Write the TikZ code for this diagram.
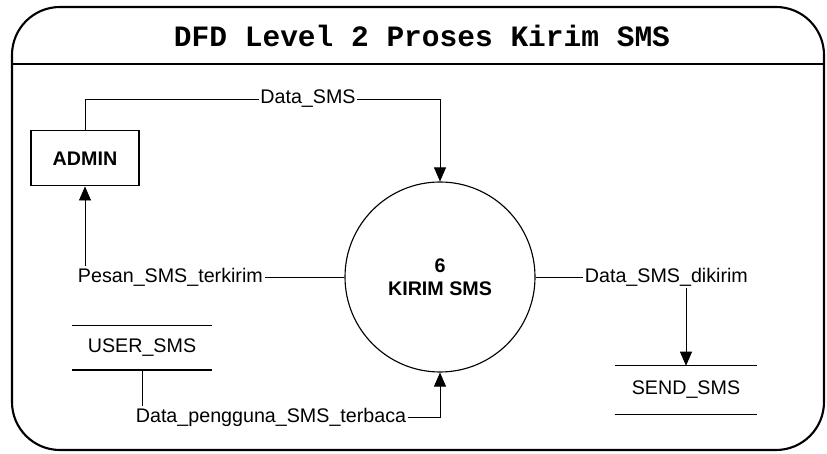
\documentclass[tikz,border=0pt]{standalone}
\usepackage{fontspec}
\setmainfont{Liberation Sans}
\newfontfamily\titlefont{Liberation Mono}
\usepackage{tikz}
\usetikzlibrary{arrows.meta}

\begin{document}
\begin{tikzpicture}[
	lbl/.style={font=\fontsize{14}{16.4}\selectfont, inner sep=1pt},
	flow/.style={line width=0.5pt},
	arr/.style={flow, -{Triangle[length=0.35cm,width=0.3cm]}},
	store/.style={lbl, minimum height=1.1cm, inner sep=0pt,
		append after command={(\tikzlastnode.north west) edge[line width=1.1pt] (\tikzlastnode.north east)
			(\tikzlastnode.south west) edge[line width=1.1pt] (\tikzlastnode.south east)}}
]
\useasboundingbox (0,0) rectangle (20.675,11.35);

% frame and title
\draw[line width=1.5pt, rounded corners=1.2cm] (0.3,0.1) rectangle (20.6,11.175);
\draw[line width=1.2pt] (0.3,9.75)--(20.6,9.75);
\node[font=\titlefont\fontsize{21}{24}\selectfont\bfseries] (title) at (10.55,10.45) {DFD Level 2 Proses Kirim SMS};

% process, entity and stores
\node[circle, draw, line width=0.8pt, minimum size=4.75cm, inner sep=0pt, align=center,
	font=\fontsize{14}{16.4}\selectfont\bfseries] (kirim) at (11,4.425) {6\\KIRIM SMS};
\node[draw, line width=0.8pt, minimum width=2.7cm, minimum height=1.375cm,
	font=\fontsize{14}{16.4}\selectfont\bfseries] (admin) at (2.125,7.39) {ADMIN};
\node[store, minimum width=3.5cm] (user) at (3.55,2.66) {USER\_SMS};
\node[store, minimum width=3.55cm, minimum height=1.2cm] (send) at (17.15,1.6) {SEND\_SMS};

% flow labels
\node[lbl] (dsms) at (7.7,8.875) {Data\_SMS};
\node[lbl] (pesan) at (4.26,4.425) {Pesan\_SMS\_terkirim};
\node[lbl] (dkirim) at (16.66,4.425) {Data\_SMS\_dikirim};
\node[lbl] (dpeng) at (6.775,0.925) {Data\_pengguna\_SMS\_terbaca};

% flows
\draw[flow] (admin.north) |- (dsms);
\draw[arr] (dsms) -| (kirim.north);
\draw[flow] (kirim) -- (pesan);
\draw[arr] (pesan.north -| admin.south) -- (admin.south);
\draw[flow] (kirim) -- (dkirim);
\draw[arr] (dkirim.south -| send.north) -- (send.north);
\draw[flow] (user.south) -- (user.south |- dpeng.north);
\draw[arr] (dpeng) -| (kirim.south);
\end{tikzpicture}
\end{document}
